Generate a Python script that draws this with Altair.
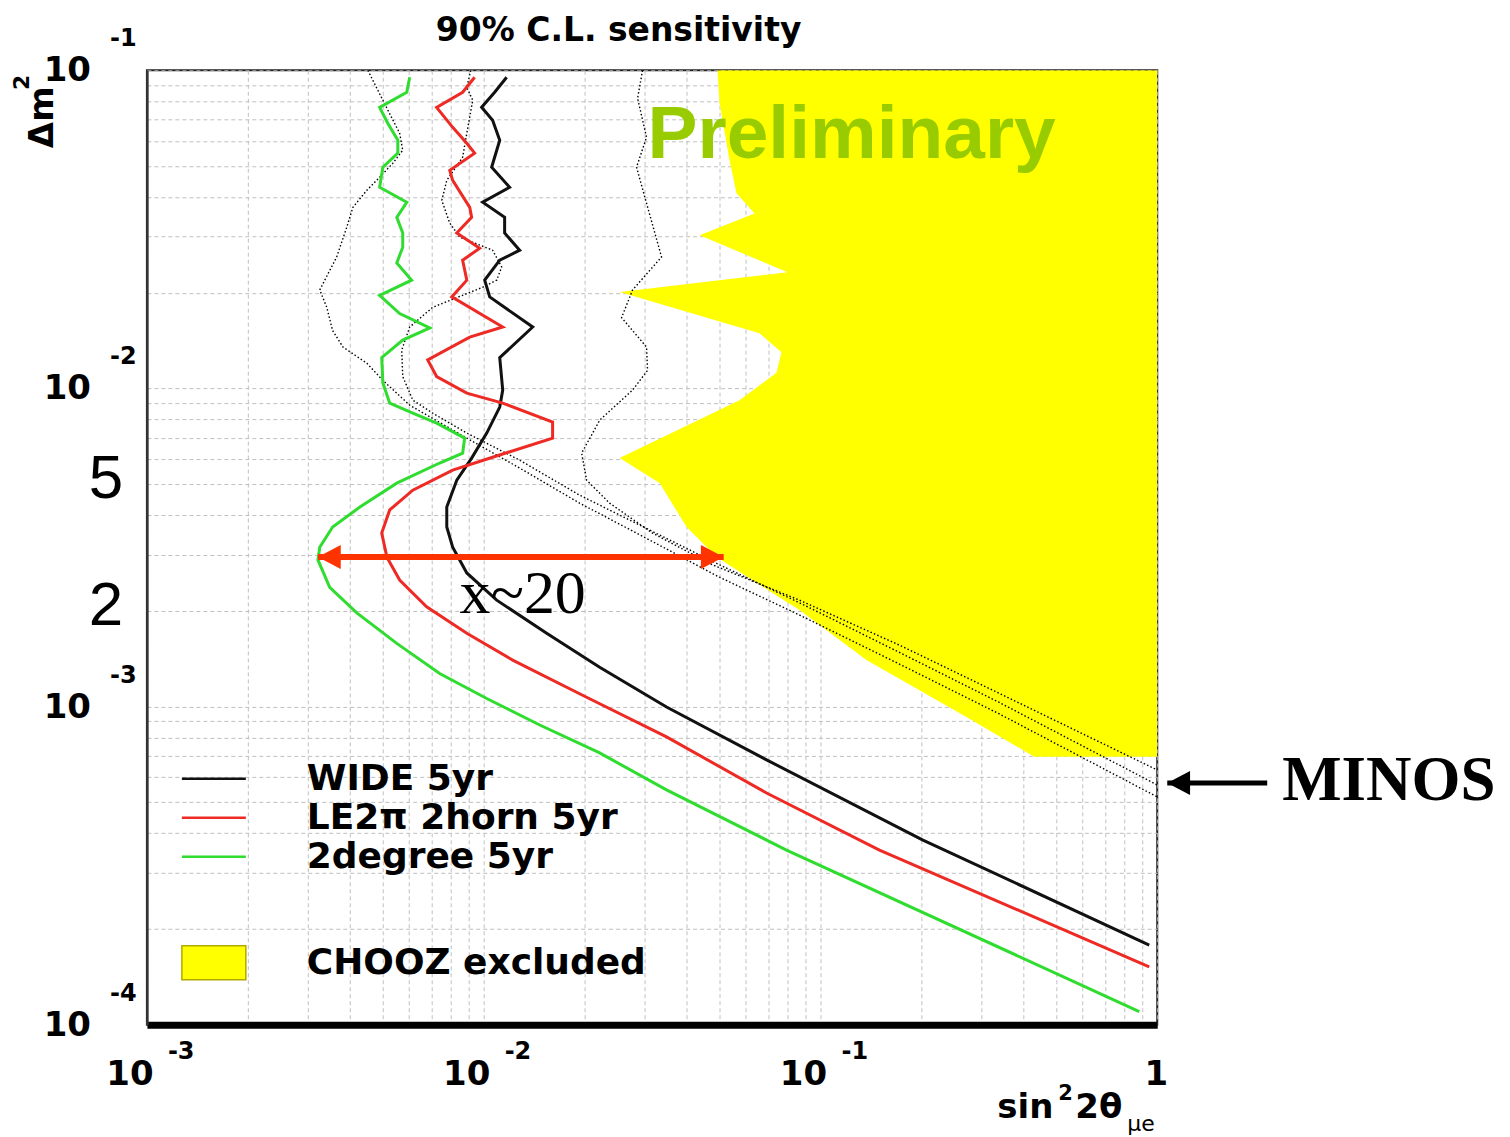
import altair as alt
import pandas as pd

# ---------------- values ----------------
# x = sin^2(2theta_mue), y = delta m^2
WIDE_X = [0.01170, 0.01078, 0.00986, 0.01063, 0.01116, 0.01056, 0.01194, 0.00993, 0.01154, 0.01154,
          0.01279, 0.01116, 0.01007, 0.01042, 0.01398, 0.01116, 0.01139, 0.01116, 0.01021, 0.00921,
          0.00832, 0.00777, 0.00777, 0.00809, 0.00891, 0.01093, 0.01538, 0.02210, 0.03491, 0.06917,
          0.2008, 0.9469]
WIDE_Y = [0.0951, 0.0853, 0.0765, 0.0697, 0.0603, 0.0496, 0.0429, 0.0385, 0.0345, 0.0308,
          0.0272, 0.0253, 0.0219, 0.0194, 0.0156, 0.0125, 0.00988, 0.00874, 0.00724, 0.00604,
          0.00515, 0.00424, 0.00367, 0.00317, 0.00263, 0.00216, 0.00170, 0.00133, 0.000997, 0.000680,
          0.000381, 0.000178]

LE_X = [0.00940, 0.00866, 0.00725, 0.00809, 0.00891, 0.00940, 0.00793, 0.00809, 0.00909, 0.00921,
        0.00832, 0.00973, 0.00866, 0.00891, 0.00804, 0.01139, 0.00909, 0.00682, 0.00725, 0.00891,
        0.01139, 0.01602, 0.01602, 0.01063, 0.00809, 0.00616, 0.00526, 0.00498, 0.00516, 0.00563,
        0.00677, 0.00891, 0.01219, 0.02021, 0.03491, 0.06917, 0.1497, 0.9469]
LE_Y = [0.0951, 0.0853, 0.0765, 0.0662, 0.0590, 0.0549, 0.0485, 0.0451, 0.0371, 0.0345,
        0.0308, 0.0276, 0.0253, 0.0219, 0.0194, 0.0156, 0.0145, 0.0123, 0.0109, 0.00967,
        0.00899, 0.00784, 0.00698, 0.00608, 0.00554, 0.00479, 0.00415, 0.00351, 0.00295, 0.00250,
        0.00206, 0.00170, 0.00140, 0.00107, 0.000803, 0.000535, 0.000354, 0.000152]

DEG_X = [0.00603, 0.00591, 0.00491, 0.00519, 0.00556, 0.00556, 0.00502, 0.00491, 0.00591, 0.00552,
         0.00575, 0.00575, 0.00552, 0.00611, 0.00491, 0.00563, 0.00692, 0.00575, 0.00498, 0.00502,
         0.00526, 0.00616, 0.00725, 0.00878, 0.00866, 0.00740, 0.00552, 0.00429, 0.00356, 0.00326,
         0.00322, 0.00349, 0.00420, 0.00552, 0.00740, 0.01021, 0.01467, 0.02210, 0.03491, 0.07927,
         0.8845]
DEG_Y = [0.0951, 0.0853, 0.0765, 0.0682, 0.0603, 0.0549, 0.0496, 0.0429, 0.0385, 0.0345,
         0.0308, 0.0278, 0.0248, 0.0219, 0.0196, 0.0172, 0.0155, 0.0142, 0.0125, 0.0104,
         0.00899, 0.00836, 0.00778, 0.00698, 0.00626, 0.00583, 0.00504, 0.00424, 0.00367, 0.00317,
         0.00289, 0.00237, 0.00197, 0.00158, 0.00127, 0.00106, 0.000875, 0.000715, 0.000547, 0.000354,
         0.000110]

# MINOS dotted contours
M1_X = [0.00453, 0.00502, 0.00563, 0.00575, 0.00537, 0.00491, 0.00450, 0.00409, 0.00392, 0.00366,
        0.00326, 0.00342, 0.00356, 0.00382, 0.00450, 0.00502, 0.00603, 0.00891, 0.01279, 0.01927,
        0.03108, 0.05016, 0.08664, 0.1716, 0.3398, 1.0]
M1_Y = [0.1, 0.0805, 0.0634, 0.0561, 0.0510, 0.0461, 0.0420, 0.0371, 0.0321, 0.0259,
        0.0204, 0.0180, 0.0152, 0.0135, 0.0120, 0.0106, 0.00886, 0.00698, 0.00562, 0.00436,
        0.00334, 0.00255, 0.00194, 0.00136, 0.000948, 0.000520]
M2_X = [0.00915, 0.00891, 0.00928, 0.00891, 0.00866, 0.00777, 0.00751, 0.00793, 0.00849, 0.01063,
        0.01131, 0.01093, 0.00993, 0.00706, 0.00603, 0.00571, 0.00575, 0.00616, 0.00706, 0.00891,
        0.01279, 0.01927, 0.03108, 0.05016, 0.08664, 0.1716, 0.3398, 1.0]
M2_Y = [0.1, 0.0884, 0.0805, 0.0634, 0.0533, 0.0451, 0.0390, 0.0331, 0.0299, 0.0272,
        0.0241, 0.0219, 0.0208, 0.0180, 0.0156, 0.0132, 0.0109, 0.00919, 0.00836, 0.00724,
        0.00595, 0.00462, 0.00359, 0.00279, 0.00212, 0.00148, 0.00103, 0.000567]
M3_X = [0.02963, 0.02864, 0.03045, 0.02844, 0.03045, 0.03374, 0.02768, 0.02567, 0.03045, 0.03066,
        0.02768, 0.02210, 0.01954, 0.02021, 0.02366, 0.03172, 0.04782, 0.08664, 0.1716, 0.3398, 1.0]
M3_Y = [0.1, 0.0817, 0.0616, 0.0496, 0.0382, 0.0259, 0.0204, 0.0167, 0.0135, 0.0114,
        0.00988, 0.00795, 0.00626, 0.00515, 0.00436, 0.00351, 0.00279, 0.00216, 0.00156, 0.00110, 0.000632]

# CHOOZ excluded region: left boundary (region extends to sin^2 = 1)
CHOOZ_X = [0.04947, 0.05016, 0.05370, 0.05633, 0.06370, 0.04376, 0.07981, 0.02533, 0.06592, 0.07661,
           0.07403, 0.05750, 0.02533, 0.03329, 0.04004, 0.04914, 0.08664, 0.1369, 0.2712, 0.4315]
CHOOZ_Y = [0.1, 0.0788, 0.0522, 0.0411, 0.0355, 0.0303, 0.0232, 0.0201, 0.0149, 0.0130,
           0.0112, 0.00919, 0.00604, 0.00504, 0.00367, 0.00295, 0.00201, 0.00140, 0.000927, 0.000695]
CHOOZ_RIGHT = 1.0
CHOOZ_LABEL = "CHOOZ excluded"

SERIES = ["WIDE 5yr", "LE2\u03c0 2horn 5yr", "2degree 5yr"]
SERIES_COLORS = ["#111111", "#ee2a24", "#2fdc2f"]

X_GRID = [0.001, 0.002, 0.003, 0.004, 0.005, 0.006, 0.007, 0.008, 0.009,
          0.01, 0.02, 0.03, 0.04, 0.05, 0.06, 0.07, 0.08, 0.09,
          0.1, 0.2, 0.3, 0.4, 0.5, 0.6, 0.7, 0.8, 0.9, 1.0]
Y_GRID = [0.0001, 0.0002, 0.0003, 0.0004, 0.0005, 0.0006, 0.0007, 0.0008, 0.0009,
          0.001, 0.002, 0.003, 0.004, 0.005, 0.006, 0.007, 0.008, 0.009,
          0.01, 0.02, 0.03, 0.04, 0.05, 0.06, 0.07, 0.08, 0.09, 0.1]
X_MAJOR = [0.001, 0.01, 0.1]
X_MAJOR_EXP = ["-3", "-2", "-1"]
Y_MAJOR = [0.1, 0.01, 0.001, 0.0001]
Y_MAJOR_EXP = ["-1", "-2", "-3", "-4"]
Y_EXTRA = [0.005, 0.002]
Y_EXTRA_TXT = ["5", "2"]

TITLE = "90% C.L. sensitivity"

# annotations
ARROW_X = [0.00322, 0.0516]
ARROW_Y = 0.00295
ARROW_TEXT = "x~20"
ARROW_TEXT_X = 0.01305
ARROW_TEXT_Y = 0.001968
MINOS_ARROW_X = [1.071, 2.121]
MINOS_ARROW_Y = 0.000575
MINOS_TEXT_X = 2.35
MINOS_TEXT_Y = 0.000509
PRELIM_X = 0.03066
PRELIM_Y = 0.0529

# ---------------- data frames ----------------
def series_df(xs, ys, name):
    return pd.DataFrame({"x": xs, "y": ys, "series": name, "i": list(range(len(xs)))})

curves_df = pd.concat([series_df(WIDE_X, WIDE_Y, SERIES[0]),
                       series_df(LE_X, LE_Y, SERIES[1]),
                       series_df(DEG_X, DEG_Y, SERIES[2])], ignore_index=True)
minos_df = pd.concat([series_df(M1_X, M1_Y, "m1"),
                      series_df(M2_X, M2_Y, "m2"),
                      series_df(M3_X, M3_Y, "m3")], ignore_index=True)
chooz_df = pd.DataFrame({"x": CHOOZ_X, "y": CHOOZ_Y, "xr": CHOOZ_RIGHT, "label": CHOOZ_LABEL})

xs = alt.Scale(type="log", domain=[0.001, 1.0], nice=False)
ys = alt.Scale(type="log", domain=[0.0001, 0.1], nice=False)
xaxis = alt.Axis(values=X_GRID, labels=False, ticks=False, title=None, grid=True,
                 gridColor="#c0c0c0", gridDash=[4, 3], gridWidth=1,
                 domainColor="#000000", domainWidth=7)
yaxis = alt.Axis(values=Y_GRID, labels=False, ticks=False, title=None, grid=True,
                 gridColor="#c0c0c0", gridDash=[4, 3], gridWidth=1,
                 domainColor="#333333", domainWidth=2.5)


def X(f):
    return alt.X(f, type="quantitative", scale=xs, axis=xaxis)


def Y(f):
    return alt.Y(f, type="quantitative", scale=ys, axis=yaxis)


LEG_FONT = "DejaVu Sans"


def text_layer(df, **kw):
    return alt.Chart(df).mark_text(color="#000000", **kw).encode(x=X("x"), y=Y("y"), text="t:N")


area = alt.Chart(chooz_df).mark_area(orient="horizontal", clip=True).encode(
    y=Y("y"), x=X("x"), x2=alt.X2("xr"),
    fill=alt.Fill("label:N", scale=alt.Scale(domain=[CHOOZ_LABEL], range=["#ffff00"]),
                  legend=alt.Legend(title=None, orient="none", legendX=49, legendY=875, padding=0,
                                    symbolType="M-2,-1.06H2V1.06H-2Z", symbolSize=1024,
                                    symbolStrokeColor="#b3a800", symbolStrokeWidth=1.5,
                                    symbolOpacity=1, labelFont=LEG_FONT, labelFontSize=36,
                                    labelFontWeight="bold", labelColor="#000000",
                                    labelOffset=75, labelLimit=800)),
)

prelim = alt.Chart(pd.DataFrame({"x": [PRELIM_X], "y": [PRELIM_Y], "t": ["Preliminary"]})).mark_text(
    align="left", baseline="alphabetic", font="Liberation Sans", fontWeight="bold",
    fontSize=75, color="#99cc00").encode(x=X("x"), y=Y("y"), text="t:N")

dotted = alt.Chart(minos_df).mark_line(color="#000000", strokeWidth=1.4, strokeDash=[1.5, 2.2],
                                       clip=True).encode(
    x=X("x"), y=Y("y"), detail="series:N", order="i:Q")

curves = alt.Chart(curves_df).mark_line(strokeWidth=3, clip=True).encode(
    x=X("x"), y=Y("y"),
    color=alt.Color("series:N", scale=alt.Scale(domain=SERIES, range=SERIES_COLORS),
                    legend=alt.Legend(title=None, orient="none", legendX=49, legendY=691, padding=0,
                                      rowPadding=3, symbolType="M-2,0H2", symbolSize=1024,
                                      symbolStrokeWidth=2.5, labelFont=LEG_FONT, labelFontSize=36,
                                      labelFontWeight="bold", labelColor="#000000",
                                      labelOffset=75, labelLimit=800)),
    order="i:Q")

# red double arrow
red_shaft = alt.Chart(pd.DataFrame({"x": [ARROW_X[0]], "xe": [ARROW_X[1]], "y": [ARROW_Y]})).mark_rule(
    color="#ff3300", strokeWidth=6).encode(x=X("x"), x2=alt.X2("xe"), y=Y("y"))
red_heads = alt.Chart(pd.DataFrame({"x": ARROW_X, "y": [ARROW_Y, ARROW_Y],
                                    "shape": ["M0,0L1.9,-1L1.9,1Z", "M0,0L-1.9,-1L-1.9,1Z"]})).mark_point(
    filled=True, color="#ff3300", size=576, opacity=1, strokeWidth=0).encode(
    x=X("x"), y=Y("y"), shape=alt.Shape("shape:N", scale=None))
x20 = text_layer(pd.DataFrame({"x": [ARROW_TEXT_X], "y": [ARROW_TEXT_Y], "t": [ARROW_TEXT]}),
                 align="center", baseline="alphabetic", font="Liberation Serif", fontSize=62)

# MINOS arrow + label
minos_shaft = alt.Chart(pd.DataFrame({"x": [MINOS_ARROW_X[0]], "xe": [MINOS_ARROW_X[1]],
                                      "y": [MINOS_ARROW_Y]})).mark_rule(
    color="#000000", strokeWidth=5).encode(x=X("x"), x2=alt.X2("xe"), y=Y("y"))
minos_head = alt.Chart(pd.DataFrame({"x": [MINOS_ARROW_X[0]], "y": [MINOS_ARROW_Y],
                                     "shape": ["M0,0L1.9,-1L1.9,1Z"]})).mark_point(
    filled=True, color="#000000", size=576, opacity=1, strokeWidth=0).encode(
    x=X("x"), y=Y("y"), shape=alt.Shape("shape:N", scale=None))
minos_txt = text_layer(pd.DataFrame({"x": [MINOS_TEXT_X], "y": [MINOS_TEXT_Y], "t": ["MINOS"]}),
                       align="left", baseline="alphabetic", font="Liberation Serif",
                       fontWeight="bold", fontSize=63)

# axis labels (ROOT style 10 with exponent)
yten = text_layer(pd.DataFrame({"x": [X_MAJOR[0]] * 4, "y": Y_MAJOR, "t": ["10"] * 4}),
                  align="right", baseline="middle", dx=-56, dy=1, font=LEG_FONT,
                  fontWeight="bold", fontSize=34)
yexp = text_layer(pd.DataFrame({"x": [X_MAJOR[0]] * 4, "y": Y_MAJOR, "t": Y_MAJOR_EXP}),
                  align="left", baseline="middle", dx=-37, dy=-31, font=LEG_FONT,
                  fontWeight="bold", fontSize=24)
yextra = text_layer(pd.DataFrame({"x": [X_MAJOR[0]] * 2, "y": Y_EXTRA, "t": Y_EXTRA_TXT}),
                    align="center", baseline="middle", dx=-41, dy=-5, font="Liberation Sans",
                    fontSize=62)
xten = text_layer(pd.DataFrame({"x": X_MAJOR, "y": [Y_MAJOR[-1]] * 3, "t": ["10"] * 3}),
                  align="center", baseline="middle", dx=-17, dy=50, font=LEG_FONT,
                  fontWeight="bold", fontSize=34)
xexp = text_layer(pd.DataFrame({"x": X_MAJOR, "y": [Y_MAJOR[-1]] * 3, "t": X_MAJOR_EXP}),
                  align="left", baseline="middle", dx=21, dy=27, font=LEG_FONT,
                  fontWeight="bold", fontSize=24)
xone = text_layer(pd.DataFrame({"x": [1.0], "y": [Y_MAJOR[-1]], "t": ["1"]}),
                  align="center", baseline="middle", dx=-1, dy=50, font=LEG_FONT,
                  fontWeight="bold", fontSize=34)

# title and axis titles, anchored at the plot corners
corner_tl = pd.DataFrame({"x": [0.001], "y": [0.1]})
title = text_layer(corner_tl.assign(t=TITLE), align="center", baseline="alphabetic",
                   dx=472, dy=-29, font=LEG_FONT, fontWeight="bold", fontSize=33)
ytitle = text_layer(corner_tl.assign(t="\u0394m"), align="center", baseline="middle", angle=270,
                    dx=-47, dy=-104, font=LEG_FONT, fontWeight="bold", fontSize=34)
ytitle_sup = text_layer(corner_tl.assign(t="2"), align="center", baseline="middle", angle=270,
                        dx=-12, dy=-125, font=LEG_FONT, fontWeight="bold", fontSize=22)

corner_br = pd.DataFrame({"x": [1.0], "y": [0.0001]})
xt1 = text_layer(corner_br.assign(t="sin"), align="left", baseline="alphabetic", dx=-160, dy=93,
                 font=LEG_FONT, fontWeight="bold", fontSize=34)
xt2 = text_layer(corner_br.assign(t="2"), align="left", baseline="alphabetic", dx=-99, dy=75,
                 font=LEG_FONT, fontWeight="bold", fontSize=21)
xt3 = text_layer(corner_br.assign(t="2\u03b8"), align="left", baseline="alphabetic", dx=-82, dy=93,
                 font=LEG_FONT, fontWeight="bold", fontSize=34)
xt4 = text_layer(corner_br.assign(t="\u03bce"), align="left", baseline="alphabetic", dx=-30, dy=106,
                 font=LEG_FONT, fontSize=22)

chart = alt.layer(
    area, prelim, dotted, curves, red_shaft, red_heads, x20,
    minos_shaft, minos_head, minos_txt,
    yten, yexp, yextra, xten, xexp, xone, title, ytitle, ytitle_sup, xt1, xt2, xt3, xt4,
).properties(
    width=1011, height=955,
    padding={"left": 139, "top": 62, "right": 345, "bottom": 110},
    autosize=alt.AutoSizeParams(type="none"),
    background="white",
).configure_view(stroke="#222222", strokeWidth=2)

chart.save("out.html", embed_options={"renderer": "svg", "actions": False})
